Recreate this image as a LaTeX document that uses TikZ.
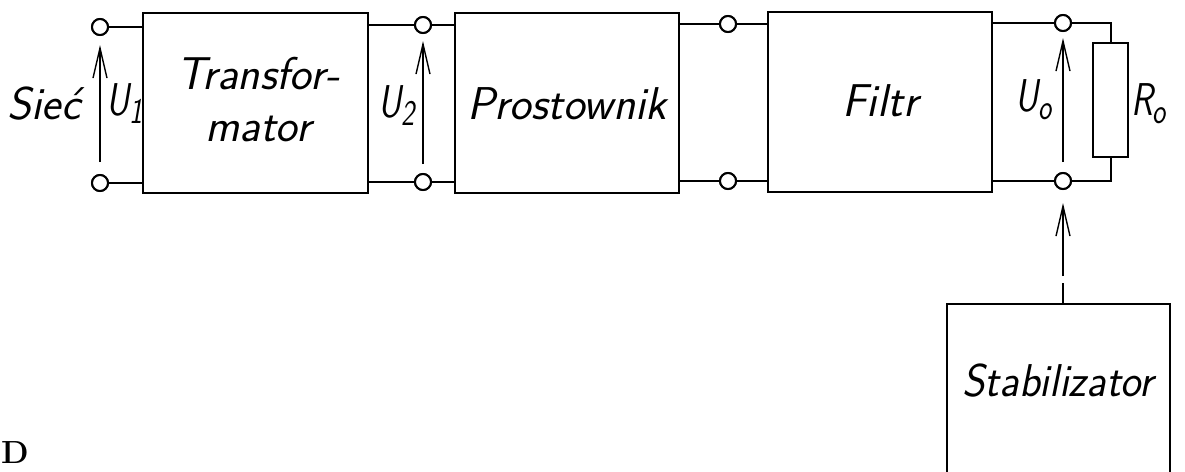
\documentclass[tikz,border=0pt]{standalone}
\usepackage{fontspec}
\usetikzlibrary{arrows.meta}
\newcommand{\lowidx}[1]{\raisebox{-0.4ex}{\fontsize{36}{36}\selectfont #1}}
\newcommand{\narrow}[1]{\scalebox{0.78}[1]{#1}}
\tikzset{
  block/.style={draw, line width=2.4pt, inner sep=0pt},
  wire/.style={line width=2pt},
  term/.style={circle, draw, line width=2pt, fill=white, minimum size=16pt, inner sep=0pt},
  volt/.style={line width=1.4pt, -{Straight Barb[length=30pt,width=14pt,line width=1.4pt]}},
  lbl/.style={font=\fontsize{46}{52}\selectfont\sffamily\itshape, inner sep=0pt, align=center},
}
\begin{document}
\begin{tikzpicture}[x=1pt,y=-1pt]
\useasboundingbox (0,0) rectangle (1185,471);
\clip (0,0) rectangle (1185,471);

% main chain of blocks
\node[block, minimum width=225pt, minimum height=180pt] (trafo) at (255.5,103) {};
\node[block, minimum width=224pt, minimum height=180pt] (prost) at (567,103) {};
\node[block, minimum width=224pt, minimum height=180pt] (filtr) at (880,102) {};
\node[block, minimum width=223pt, minimum height=200pt, anchor=north] (stab) at (1058.5,303) {};

\node[lbl] (ttrafo) at (258,100) {Transfor-\\mator};
\node[lbl] (tprost) at (567,104) {Prostownik};
\node[lbl] (tfiltr) at (880,101) {Filtr};
\node[lbl] (tstab) at (1058,381) {\scalebox{0.94}[1]{Stabilizator}};

% load resistor
\node[draw, line width=2pt, minimum width=35pt, minimum height=114pt, inner sep=0pt] (ro) at (1110.5,100) {};

% terminals
\node[term] (t1a) at (100,27) {};
\node[term] (t1b) at (100,183) {};
\node[term] (t2a) at (423,25) {};
\node[term] (t2b) at (423,182) {};
\node[term] (t3a) at (728,24) {};
\node[term] (t3b) at (728,181) {};
\node[term] (t4a) at (1063,23) {};
\node[term] (t4b) at (1063,181) {};

% wiring
\draw[wire] (t1a) -- (t1a -| trafo.west);
\draw[wire] (t1b) -- (t1b -| trafo.west);
\draw[wire] (t2a -| trafo.east) -- (t2a) -- (t2a -| prost.west);
\draw[wire] (t2b -| trafo.east) -- (t2b) -- (t2b -| prost.west);
\draw[wire] (t3a -| prost.east) -- (t3a) -- (t3a -| filtr.west);
\draw[wire] (t3b -| prost.east) -- (t3b) -- (t3b -| filtr.west);
\draw[wire] (t4a -| filtr.east) -- (t4a) -- (t4a -| ro.north) -- (ro.north);
\draw[wire] (t4b -| filtr.east) -- (t4b) -- (t4b -| ro.south) -- (ro.south);
% redraw terminals over the wires
\foreach \t in {t1a,t1b,t2a,t2b,t3a,t3b,t4a,t4b}
  \node[term] at (\t) {};

% voltage arrows
\draw[volt, shorten <=12pt, shorten >=9pt] (t1b.north) -- (t1a.south);
\draw[volt, shorten <=9pt, shorten >=7pt] (t2b.north) -- (t2a.south);
\draw[volt, shorten <=10pt, shorten >=6pt] (t4b.north) -- (t4a.south);
\draw[volt, dash pattern=on 20pt off 7pt on 100pt, shorten >=13pt] (stab.north -| t4b) -- (t4b.south);

% voltage and resistor labels
\node[lbl] (lsiec) at (44,104) {Sieć};
\node[lbl, anchor=west] (lu1) at (106,104) {\narrow{U\lowidx{1}}};
\node[lbl, anchor=east] (lu2) at (415,106) {\narrow{U\lowidx{2}}};
\node[lbl, anchor=east] (lu0) at (1052,100) {\narrow{U\lowidx{o}}};
\node[lbl, anchor=west] (lro) at (1131,104) {\narrow{R\lowidx{o}}};

\node[font=\fontsize{32}{32}\selectfont\bfseries] (frag) at (15,453) {D};
\end{tikzpicture}
\end{document}
